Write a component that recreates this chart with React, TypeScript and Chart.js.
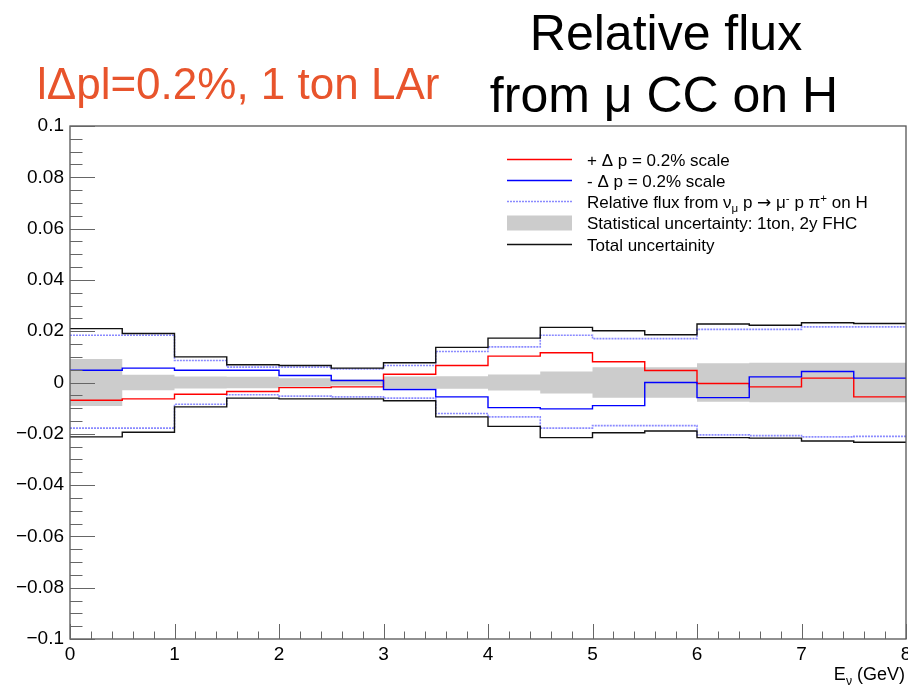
import React, { useEffect, useRef } from 'react';
import { Chart, registerables } from 'chart.js';

Chart.register(...registerables);

// ---------- data ----------
const binEdges = [0, 0.5, 1, 1.5, 2, 2.5, 3, 3.5, 4, 4.5, 5, 5.5, 6, 6.5, 7, 7.5, 8];

const plusScale = [-0.0069, -0.0064, -0.0046, -0.0035, -0.002, -0.0017, 0.0032, 0.0066, 0.0103, 0.0116, 0.0081, 0.0047, -0.0004, -0.0017, 0.0017, -0.0056];
const minusScale = [0.0048, 0.0056, 0.0048, 0.0048, 0.0027, 0.0008, -0.0027, -0.0056, -0.0098, -0.0103, -0.009, 0.0, -0.0059, 0.0022, 0.0043, 0.0017];
const fluxUp = [0.0184, 0.0184, 0.0086, 0.006, 0.006, 0.0053, 0.0066, 0.0121, 0.0139, 0.0184, 0.0171, 0.0171, 0.0207, 0.0207, 0.0217, 0.0217];
const fluxDown = [-0.0178, -0.0178, -0.0085, -0.0048, -0.0053, -0.0056, -0.0061, -0.0121, -0.0134, -0.0178, -0.0168, -0.0168, -0.0204, -0.0207, -0.0212, -0.021];
const totalUp = [0.021, 0.0191, 0.01, 0.0069, 0.0066, 0.0056, 0.0077, 0.0137, 0.0173, 0.0215, 0.0202, 0.0186, 0.0228, 0.0223, 0.0233, 0.023];
const totalDown = [-0.0212, -0.0194, -0.0095, -0.0061, -0.0064, -0.0064, -0.0071, -0.0134, -0.0171, -0.0215, -0.0196, -0.0189, -0.0215, -0.0217, -0.0228, -0.0233];
const statErr = [0.0092, 0.003, 0.0023, 0.0022, 0.0017, 0.0012, 0.0023, 0.0024, 0.0031, 0.0043, 0.0059, 0.0059, 0.0075, 0.0077, 0.0077, 0.0077];

const xMin = 0;
const xMax = 8;
const yMin = -0.1;
const yMax = 0.1;
const yStep = 0.02;
const xStep = 1;

const legendLabels = [
  '+ \u0394 p = 0.2% scale',
  '- \u0394 p = 0.2% scale',
  'Relative flux from \u03bd_\u03bc p \u2192 \u03bc^- p \u03c0^+ on H',
  'Statistical uncertainty: 1ton, 2y FHC',
  'Total uncertainity',
];
const titleLine1 = 'Relative flux';
const titleLine2 = 'from \u03bc CC on H';
const sideTitle = 'l\u0394pl=0.2%, 1 ton LAr';
const xTitle = 'E_\u03bd (GeV)';

// ---------- helpers ----------
const FONT = '"Liberation Sans", Arial, Helvetica, sans-serif';
const DOT_COLOR = '#8a8aff';

function toSteps(values: number[]) {
  const pts = values.map((v, i) => ({ x: binEdges[i], y: v }));
  pts.push({ x: binEdges[binEdges.length - 1], y: values[values.length - 1] });
  return pts;
}

// draw text with _x subscripts and ^x superscripts (single char tokens after marker)
function drawRich(ctx: CanvasRenderingContext2D, text: string, x: number, y: number, size: number, measureOnly = false) {
  const parts: { t: string; s: number }[] = [];
  let buf = '';
  for (let i = 0; i < text.length; i++) {
    const c = text[i];
    if ((c === '_' || c === '^') && i + 1 < text.length) {
      if (buf) parts.push({ t: buf, s: 0 });
      buf = '';
      parts.push({ t: text[i + 1], s: c === '_' ? -1 : 1 });
      i++;
    } else if (c === '\u2192') {
      if (buf) parts.push({ t: buf, s: 0 });
      buf = '';
      parts.push({ t: c, s: 2 });
    } else buf += c;
  }
  if (buf) parts.push({ t: buf, s: 0 });
  let cx = x;
  for (const p of parts) {
    let sz = size;
    let fam = FONT;
    let dy = 0;
    if (p.s === -1) { sz = size * 0.68; dy = size * 0.25; }
    else if (p.s === 1) { sz = size * 0.68; dy = -size * 0.38; }
    else if (p.s === 2) { sz = size; fam = '"DejaVu Sans", sans-serif'; dy = 0; }
    ctx.font = `${sz}px ${fam}`;
    if (!measureOnly) ctx.fillText(p.t, cx, y + dy);
    cx += ctx.measureText(p.t).width;
  }
  return cx - x;
}

const decorPlugin = {
  id: 'decor',
  afterDraw(chart: any) {
    const ctx: CanvasRenderingContext2D = chart.ctx;
    const { left, right, top, bottom } = chart.chartArea;
    const xs = chart.scales.x;
    const ys = chart.scales.y;
    ctx.save();

    // frame
    ctx.strokeStyle = '#555';
    ctx.lineWidth = 1.3;
    ctx.strokeRect(left, top, right - left, bottom - top);

    // y ticks (inward)
    ctx.strokeStyle = '#666';
    ctx.lineWidth = 1;
    const ySub = 4;
    const nY = Math.round((yMax - yMin) / (yStep / ySub));
    for (let k = 0; k <= nY; k++) {
      const v = yMin + (k * yStep) / ySub;
      const py = Math.round(ys.getPixelForValue(v)) + 0.5;
      const len = k % ySub === 0 ? 25 : 12.5;
      ctx.beginPath();
      ctx.moveTo(left, py);
      ctx.lineTo(left + len, py);
      ctx.stroke();
    }
    // x ticks (inward)
    const xSub = 5;
    const nX = Math.round((xMax - xMin) / (xStep / xSub));
    for (let k = 0; k <= nX; k++) {
      const v = xMin + (k * xStep) / xSub;
      const px = Math.round(xs.getPixelForValue(v)) + 0.5;
      const len = k % xSub === 0 ? 15 : 7.5;
      ctx.beginPath();
      ctx.moveTo(px, bottom);
      ctx.lineTo(px, bottom - len);
      ctx.stroke();
    }

    // titles
    ctx.fillStyle = '#000';
    ctx.textBaseline = 'alphabetic';
    ctx.textAlign = 'center';
    ctx.font = `50px ${FONT}`;
    ctx.fillText(titleLine1, 666, 50);
    ctx.fillText(titleLine2, 664, 112);

    ctx.textAlign = 'left';
    ctx.fillStyle = '#e8542c';
    ctx.font = `44px ${FONT}`;
    ctx.fillText(sideTitle, 37, 99);

    // x-axis title
    ctx.fillStyle = '#000';
    const w = drawRich(ctx, xTitle, 0, 0, 18, true);
    drawRich(ctx, xTitle, 905 - w, 680, 18);

    // legend
    const rows = [159.5, 180.5, 201.5, 223, 244.5];
    const lx0 = 507, lx1 = 572, tx = 587;
    const styles = [
      { c: '#ff0000', dash: [] as number[], w: 1.4 },
      { c: '#0000ff', dash: [] as number[], w: 1.4 },
      { c: DOT_COLOR, dash: [2, 1], w: 1.6 },
      null,
      { c: '#111111', dash: [] as number[], w: 1.4 },
    ];
    rows.forEach((ry, i) => {
      const st = styles[i];
      if (st) {
        ctx.strokeStyle = st.c;
        ctx.lineWidth = st.w;
        ctx.setLineDash(st.dash);
        ctx.beginPath();
        ctx.moveTo(lx0, ry);
        ctx.lineTo(lx1, ry);
        ctx.stroke();
        ctx.setLineDash([]);
      } else {
        ctx.fillStyle = '#cccccc';
        ctx.fillRect(lx0, ry - 7.5, lx1 - lx0, 15);
      }
      ctx.fillStyle = '#000';
      drawRich(ctx, legendLabels[i], tx, Math.round(ry) + 6, 17);
    });

    ctx.restore();
  },
};

function fmtY(v: number) {
  const r = Math.round(v * 1000) / 1000;
  if (Math.abs(r) < 1e-9) return '0';
  return String(r).replace('-', '\u2212');
}

export default function App() {
  const ref = useRef<HTMLCanvasElement | null>(null);

  useEffect(() => {
    document.body.style.margin = '0';
    const canvas = ref.current;
    if (!canvas) return;

    const line = (values: number[], color: string, order: number, dash: number[] = [], width = 1.4) => ({
      data: toSteps(values),
      borderColor: color,
      borderWidth: width,
      borderDash: dash,
      stepped: true,
      fill: false,
      pointRadius: 0,
      order,
    });

    const chart = new Chart(canvas, {
      type: 'line',
      data: {
        datasets: [
          {
            data: toSteps(statErr),
            borderColor: 'rgba(0,0,0,0)',
            borderWidth: 0,
            backgroundColor: '#cccccc',
            stepped: true,
            fill: false,
            pointRadius: 0,
            order: 10,
          },
          {
            data: toSteps(statErr.map((v) => -v)),
            borderColor: 'rgba(0,0,0,0)',
            borderWidth: 0,
            backgroundColor: '#cccccc',
            stepped: true,
            fill: '-1',
            pointRadius: 0,
            order: 10,
          },
          line(fluxUp, DOT_COLOR, 4, [2, 1], 1.6),
          line(fluxDown, DOT_COLOR, 4, [2, 1], 1.6),
          line(totalUp, '#111111', 3),
          line(totalDown, '#111111', 3),
          line(plusScale, '#ff0000', 2),
          line(minusScale, '#0000ff', 1),
        ] as any,
      },
      options: {
        responsive: false,
        animation: false,
        events: [],
        layout: { padding: { top: 126, right: 2, left: 0, bottom: 0 } },
        plugins: {
          legend: { display: false },
          tooltip: { enabled: false },
          title: { display: false },
        },
        scales: {
          x: {
            type: 'linear',
            min: xMin,
            max: xMax,
            grid: { display: false, drawTicks: false },
            border: { display: false },
            ticks: {
              stepSize: xStep,
              autoSkip: false,
              maxRotation: 0,
              padding: 4,
              color: '#000',
              font: { family: FONT, size: 19 },
              callback: (v: any) => String(Math.round(Number(v))),
            },
            afterFit: (s: any) => {
              s.height = 47;
              s.paddingLeft = 0;
              s.paddingRight = 0;
            },
          },
          y: {
            type: 'linear',
            min: yMin,
            max: yMax,
            grid: { display: false, drawTicks: false },
            border: { display: false },
            ticks: {
              stepSize: yStep,
              autoSkip: false,
              padding: 6,
              color: '#000',
              font: { family: FONT, size: 19 },
              callback: (v: any) => fmtY(Number(v)),
            },
            afterFit: (s: any) => {
              s.width = 70;
              s.paddingTop = 0;
              s.paddingBottom = 0;
            },
          },
        },
      } as any,
      plugins: [decorPlugin],
    });

    return () => chart.destroy();
  }, []);

  return (
    <div style={{ width: 908, height: 686 }}>
      <canvas ref={ref} width={908} height={686} style={{ display: 'block' }} />
    </div>
  );
}
